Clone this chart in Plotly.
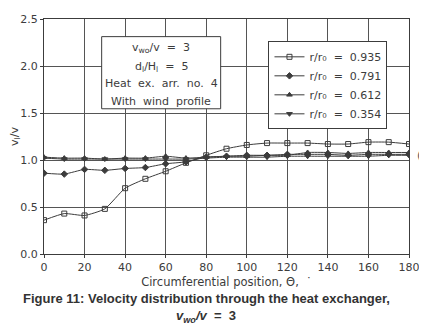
import plotly.graph_objects as go

theta = [0, 10, 20, 30, 40, 50, 60, 70, 80, 90, 100, 110, 120, 130, 140, 150, 160, 170, 180]
r935 = [0.36, 0.43, 0.41, 0.48, 0.70, 0.80, 0.88, 0.97, 1.05, 1.12, 1.16, 1.18, 1.18, 1.18, 1.17, 1.17, 1.19, 1.19, 1.17]
r791 = [0.86, 0.85, 0.90, 0.89, 0.91, 0.92, 0.96, 0.98, 1.03, 1.04, 1.05, 1.05, 1.06, 1.06, 1.06, 1.05, 1.06, 1.06, 1.06]
r612 = [1.03, 1.02, 1.02, 1.01, 1.02, 1.02, 1.04, 1.02, 1.03, 1.04, 1.04, 1.05, 1.05, 1.08, 1.08, 1.07, 1.08, 1.08, 1.08]
r354 = [1.02, 1.01, 1.01, 1.01, 1.01, 1.01, 1.01, 1.01, 1.02, 1.03, 1.03, 1.03, 1.04, 1.04, 1.04, 1.04, 1.04, 1.05, 1.05]
series_names = ["r/r₀  =  0.935", "r/r₀  =  0.791", "r/r₀  =  0.612", "r/r₀  =  0.354"]
x_ticks = [0, 20, 40, 60, 80, 100, 120, 140, 160, 180]
y_ticks = [0.0, 0.5, 1.0, 1.5, 2.0, 2.5]
info_lines = ["v<sub>wo</sub>/v  =  3", "d<sub>l</sub>/H<sub>l</sub>  =  5", "Heat  ex.  arr.  no.  4", "With  wind  profile"]

ink = "#3c3c3c"
font = "DejaVu Sans"

fig = go.Figure()
styles = [
    dict(symbol="square-open", size=5),
    dict(symbol="diamond", size=5),
    dict(symbol="triangle-up", size=5),
    dict(symbol="triangle-down", size=5),
]
for vals, name, st in zip([r935, r791, r612, r354], series_names, styles):
    fig.add_trace(go.Scatter(
        x=theta, y=vals, name=name, mode="lines+markers",
        line=dict(color=ink, width=1, shape="spline", smoothing=0.5),
        marker=dict(symbol=st["symbol"], size=st["size"], color=ink,
                    line=dict(color=ink, width=1)),
    ))

fig.update_layout(
    width=419, height=328,
    margin=dict(l=35, r=18, t=5, b=82),
    paper_bgcolor="white", plot_bgcolor="white",
    font=dict(family=font, size=11, color=ink),
    showlegend=True,
    legend=dict(
        x=0.615, y=0.905, xanchor="left", yanchor="top",
        bgcolor="white", bordercolor=ink, borderwidth=1,
        font=dict(family=font, size=11, color=ink),
        tracegroupgap=0, itemwidth=30,
    ),
    xaxis=dict(
        range=[0, 180], tickvals=x_ticks, ticktext=[str(v) for v in x_ticks],
        showgrid=True, gridcolor="#555", gridwidth=1,
        showline=True, linecolor=ink, linewidth=1, mirror=True,
        ticks="outside", ticklen=3, tickcolor=ink, zeroline=False,
        tickfont=dict(size=11), ticklabeloverflow="allow",
        title=dict(text="Circumferential position, Θ,  ˙", font=dict(size=11.5), standoff=4),
    ),
    yaxis=dict(
        range=[0, 2.5], tickvals=y_ticks, ticktext=[f"{v:.1f}" for v in y_ticks],
        showgrid=True, gridcolor="#555", gridwidth=1,
        showline=True, linecolor=ink, linewidth=1, mirror=True,
        ticks="outside", ticklen=3, tickcolor=ink, zeroline=False,
        tickfont=dict(size=11), ticklabeloverflow="allow",
        title=dict(text="v<sub>l</sub>/v", font=dict(size=11), standoff=0),
    ),
)

# info box
fig.add_shape(type="rect", xref="paper", yref="paper", x0=0.158, x1=0.484, y0=0.618, y1=0.925,
              line=dict(color=ink, width=1), fillcolor="white", layer="above")
for txt, yy in zip(info_lines, [0.876, 0.797, 0.726, 0.651]):
    fig.add_annotation(
        xref="paper", yref="paper", x=0.321, y=yy, xanchor="center", yanchor="middle",
        text=txt, showarrow=False, font=dict(family=font, size=11, color=ink),
    )

# stray bracket mark at right of plot
fig.add_annotation(
    xref="paper", yref="paper", x=1.028, y=0.42, xanchor="center", yanchor="middle",
    text="(", showarrow=False, font=dict(family=font, size=11, color="#555"),
)

fig.add_annotation(
    xref="paper", yref="paper", x=0.445, y=-0.191, xanchor="center", yanchor="middle",
    text="<b>Figure 11: Velocity distribution through the heat exchanger,</b>",
    showarrow=False, font=dict(family="Liberation Sans", size=13, color="#333"),
)
fig.add_annotation(
    xref="paper", yref="paper", x=0.445, y=-0.266, xanchor="center", yanchor="middle",
    text="<b><i>v<sub>wo</sub>/v</i>  =  3</b>",
    showarrow=False, font=dict(family="Liberation Sans", size=13, color="#333"),
)

fig.write_html("out.html")
